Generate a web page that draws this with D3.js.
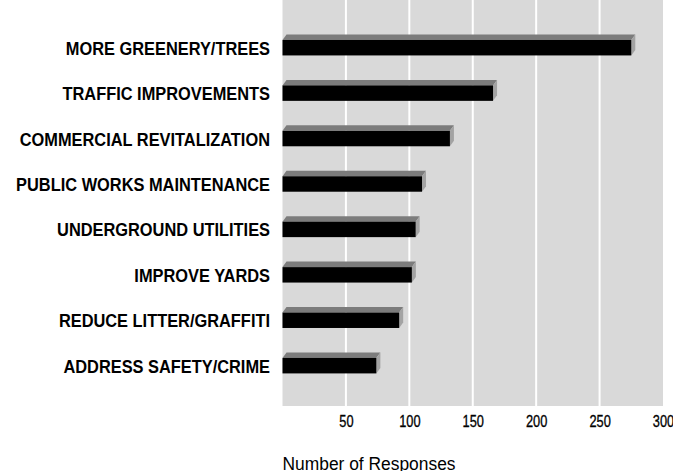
<!DOCTYPE html>
<html>
<head>
<meta charset="utf-8">
<script src="https://cdn.jsdelivr.net/npm/d3@7"></script>
<style>
  html, body { margin: 0; padding: 0; background: #ffffff; }
  svg { display: block; }
</style>
</head>
<body>
<svg id="chart" width="673" height="471"></svg>
<script>
const categories = [
  "MORE GREENERY/TREES",
  "TRAFFIC IMPROVEMENTS",
  "COMMERCIAL REVITALIZATION",
  "PUBLIC WORKS MAINTENANCE",
  "UNDERGROUND UTILITIES",
  "IMPROVE YARDS",
  "REDUCE LITTER/GRAFFITI",
  "ADDRESS SAFETY/CRIME"
];
const responses = [275, 166, 132, 110, 105, 102, 92, 74];
const tickValues = [50, 100, 150, 200, 250, 300];
const axisTitle = "Number of Responses";

const svg = d3.select("#chart");
const plot = { left: 282.5, right: 663, top: 0, bottom: 406 };

const x = d3.scaleLinear().domain([0, 300]).range([plot.left, plot.right]);
const y = d3.scaleBand().domain(categories).range([25, 388.4])
  .paddingInner(0.66).paddingOuter(0.33);

// horizontally condense text (narrow face look) while keeping it real text
function condense(sel, factor) {
  sel.each(function () {
    const w = this.getComputedTextLength();
    d3.select(this).attr("textLength", w * factor).attr("lengthAdjust", "spacingAndGlyphs");
  });
}

// background
svg.append("rect")
  .attr("x", plot.left).attr("y", plot.top)
  .attr("width", plot.right - plot.left).attr("height", plot.bottom - plot.top)
  .attr("fill", "#d9d9d9");

// gridlines
svg.append("g").selectAll("line")
  .data(tickValues.filter(v => v < 300))
  .join("line")
  .attr("x1", d => x(d)).attr("x2", d => x(d))
  .attr("y1", plot.top).attr("y2", plot.bottom)
  .attr("stroke", "#ffffff").attr("stroke-width", 2);

// 3D bars
const dx = 4, dy = 5.5;
const bars = svg.append("g").selectAll("g")
  .data(categories.map((c, i) => ({ c, v: responses[i] })))
  .join("g");

bars.append("path") // top face
  .attr("d", d => {
    const x0 = x(0), x1 = x(d.v), yt = y(d.c);
    return `M${x0},${yt}L${x0 + dx},${yt - dy}L${x1 + dx},${yt - dy}L${x1},${yt}Z`;
  })
  .attr("fill", "#7c7c7c");

bars.append("path") // side face
  .attr("d", d => {
    const x1 = x(d.v), yt = y(d.c), h = y.bandwidth();
    return `M${x1},${yt}L${x1 + dx},${yt - dy}L${x1 + dx},${yt + h - dy}L${x1},${yt + h}Z`;
  })
  .attr("fill", "#a3a3a3");

bars.append("rect") // front face
  .attr("x", x(0)).attr("y", d => y(d.c))
  .attr("width", d => x(d.v) - x(0)).attr("height", y.bandwidth())
  .attr("fill", "#000000");

// category labels
const catLabels = svg.append("g").selectAll("text")
  .data(categories)
  .join("text")
  .attr("x", 270)
  .attr("y", d => y(d) + y.bandwidth() / 2 + 1)
  .attr("text-anchor", "end")
  .attr("dominant-baseline", "central")
  .attr("font-family", "'Liberation Sans', Arial, sans-serif")
  .attr("font-weight", "bold")
  .attr("font-size", 18)
  .attr("fill", "#000")
  .text(d => d);
condense(catLabels, 0.91);

// x axis tick labels
const xAxis = d3.axisBottom(x).tickValues(tickValues).tickSize(0).tickPadding(0);
const gx = svg.append("g").attr("transform", `translate(0, ${plot.bottom + 10})`).call(xAxis);
gx.select(".domain").remove();
const tickTexts = gx.selectAll("text")
  .attr("font-family", "'Liberation Sans', Arial, sans-serif")
  .attr("font-size", 16)
  .attr("fill", "#000")
  .attr("stroke", "#000")
  .attr("stroke-width", 0.3);
condense(tickTexts, 0.8);

// axis title
svg.append("text")
  .attr("x", plot.left)
  .attr("y", 470)
  .attr("font-family", "'Liberation Sans', 'DejaVu Sans', sans-serif")
  .attr("font-size", 18)
  .attr("textLength", 173)
  .attr("lengthAdjust", "spacingAndGlyphs")
  .attr("fill", "#000")
  .text(axisTitle);
</script>
</body>
</html>
